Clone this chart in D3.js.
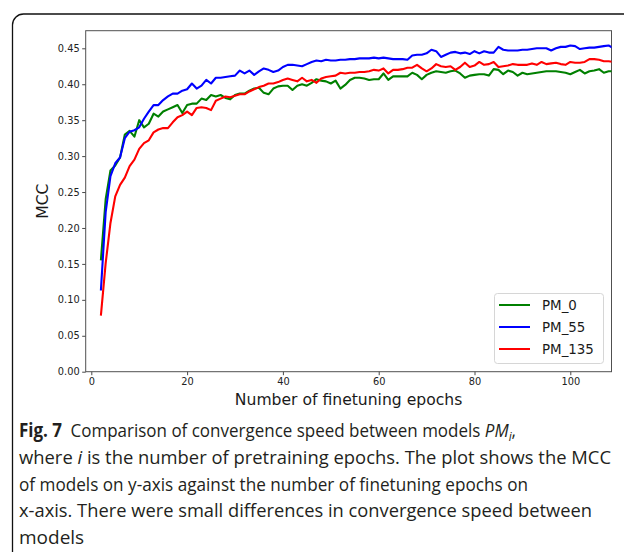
<!DOCTYPE html>
<meta charset="utf-8">
<script src="https://d3js.org/d3.v7.min.js"></script>
<style>
  body { margin: 0; background: #fff; }
</style>
<svg id="chart" width="624" height="552"></svg>
<script>

    // epochs 2..109, one value per finetuning epoch
    var epochs = d3.range(2, 110);

    var pm0 = [0.155, 0.240, 0.280, 0.287, 0.298, 0.330, 0.335, 0.327, 0.350, 0.340,
        0.345, 0.359, 0.355, 0.362, 0.365, 0.368, 0.371, 0.360, 0.371, 0.373,
        0.373, 0.380, 0.378, 0.385, 0.383, 0.385, 0.381, 0.379, 0.385, 0.387,
        0.387, 0.391, 0.394, 0.395, 0.388, 0.386, 0.394, 0.397, 0.398, 0.398,
        0.392, 0.398, 0.400, 0.398, 0.402, 0.407, 0.405, 0.404, 0.401, 0.405,
        0.394, 0.399, 0.406, 0.409, 0.409, 0.408, 0.406, 0.407, 0.407, 0.415,
        0.406, 0.411, 0.411, 0.411, 0.411, 0.416, 0.413, 0.407, 0.413, 0.416,
        0.418, 0.417, 0.416, 0.418, 0.419, 0.415, 0.409, 0.412, 0.413, 0.414,
        0.414, 0.412, 0.421, 0.420, 0.414, 0.419, 0.417, 0.412, 0.416, 0.414,
        0.415, 0.416, 0.417, 0.418, 0.418, 0.418, 0.417, 0.416, 0.414, 0.417,
        0.420, 0.415, 0.418, 0.419, 0.421, 0.416, 0.418, 0.418];

    var pm55 = [0.113, 0.222, 0.272, 0.290, 0.298, 0.325, 0.334, 0.336, 0.340, 0.352,
        0.362, 0.371, 0.371, 0.378, 0.383, 0.387, 0.387, 0.391, 0.393, 0.401,
        0.394, 0.398, 0.406, 0.401, 0.409, 0.409, 0.410, 0.411, 0.412, 0.419,
        0.415, 0.419, 0.413, 0.418, 0.422, 0.420, 0.417, 0.419, 0.424, 0.427,
        0.427, 0.426, 0.425, 0.428, 0.431, 0.433, 0.432, 0.434, 0.433, 0.433,
        0.434, 0.434, 0.435, 0.435, 0.436, 0.436, 0.436, 0.437, 0.436, 0.437,
        0.436, 0.435, 0.435, 0.435, 0.434, 0.440, 0.441, 0.441, 0.443, 0.448,
        0.446, 0.438, 0.441, 0.444, 0.445, 0.443, 0.444, 0.442, 0.446, 0.443,
        0.446, 0.444, 0.444, 0.452, 0.448, 0.447, 0.447, 0.447, 0.448, 0.448,
        0.449, 0.450, 0.450, 0.450, 0.447, 0.450, 0.452, 0.452, 0.454, 0.453,
        0.449, 0.450, 0.451, 0.451, 0.452, 0.453, 0.454, 0.450];

    var pm135 = [0.078, 0.151, 0.207, 0.244, 0.260, 0.270, 0.286, 0.295, 0.310, 0.318,
        0.322, 0.333, 0.337, 0.339, 0.339, 0.347, 0.354, 0.357, 0.362, 0.357,
        0.367, 0.368, 0.367, 0.364, 0.377, 0.380, 0.383, 0.382, 0.384, 0.386,
        0.386, 0.390, 0.393, 0.396, 0.398, 0.401, 0.401, 0.403, 0.406, 0.408,
        0.406, 0.404, 0.409, 0.404, 0.406, 0.402, 0.408, 0.410, 0.411, 0.412,
        0.416, 0.415, 0.416, 0.416, 0.417, 0.417, 0.418, 0.420, 0.419, 0.422,
        0.415, 0.420, 0.420, 0.421, 0.423, 0.423, 0.427, 0.422, 0.418, 0.422,
        0.428, 0.425, 0.424, 0.425, 0.420, 0.424, 0.430, 0.424, 0.426, 0.431,
        0.427, 0.428, 0.431, 0.424, 0.425, 0.426, 0.428, 0.427, 0.427, 0.427,
        0.429, 0.427, 0.431, 0.428, 0.429, 0.430, 0.428, 0.427, 0.431, 0.430,
        0.430, 0.431, 0.435, 0.435, 0.434, 0.432, 0.432, 0.431];

    var seriesNames = ["PM_0", "PM_55", "PM_135"];
    var seriesColors = ["#008000", "#0000ff", "#ff0000"];
    var seriesValues = [pm0, pm55, pm135];

    var xTicks = [0, 20, 40, 60, 80, 100];
    var yTicks = [0.00, 0.05, 0.10, 0.15, 0.20, 0.25, 0.30, 0.35, 0.40, 0.45];

    var captionLines = [
        "where i is the number of pretraining epochs. The plot shows the MCC",
        "of models on y-axis against the number of finetuning epochs on",
        "x-axis. There were small differences in convergence speed between",
        "models"
    ];

    var svg = d3.select("#chart");

    // figure frame (rounded top-left corner, runs off right and bottom)
    svg.append("path")
        .attr("d", "M12.5,552 V25 A11,11 0 0 1 23.5,14 H624")
        .attr("fill", "none")
        .attr("stroke", "#111")
        .attr("stroke-width", 1.3);

    var plotL = 85.7, plotR = 611.5, plotT = 30.7, plotB = 371.7;

    var x = d3.scaleLinear().domain([-1.17, 108.6]).range([plotL, plotR]);
    var y = d3.scaleLinear().domain([0, 0.4745]).range([plotB, plotT]);

    svg.append("defs").append("clipPath").attr("id", "plotclip")
        .append("rect")
        .attr("x", plotL).attr("y", plotT)
        .attr("width", plotR - plotL).attr("height", plotB - plotT);

    // axes
    var xAxis = svg.append("g")
        .attr("transform", "translate(0," + plotB + ")")
        .call(d3.axisBottom(x).tickValues(xTicks).tickSize(3.5).tickPadding(2.5).tickFormat(d3.format("d")));
    var yAxis = svg.append("g")
        .attr("transform", "translate(" + plotL + ",0)")
        .call(d3.axisLeft(y).tickValues(yTicks).tickSize(3.5).tickPadding(2.5).tickFormat(d3.format(".2f")));

    [xAxis, yAxis].forEach(function (g) {
        g.select(".domain").remove();
        g.selectAll(".tick line").attr("stroke", "#333").attr("stroke-width", 0.9);
        g.selectAll(".tick text")
            .attr("fill", "#222")
            .style("font-family", "DejaVu Sans")
            .style("font-size", "9.8px");
    });

    // spines
    svg.append("rect")
        .attr("x", plotL).attr("y", plotT)
        .attr("width", plotR - plotL).attr("height", plotB - plotT)
        .attr("fill", "none")
        .attr("stroke", "#505050")
        .attr("stroke-width", 1);

    // lines
    var line = d3.line()
        .x(function (d, i) { return x(epochs[i]) })
        .y(function (d) { return y(d) });

    svg.append("g")
        .attr("clip-path", "url(#plotclip)")
        .selectAll("path")
        .data(seriesValues)
        .enter()
        .append("path")
        .attr("fill", "none")
        .attr("stroke", function (d, i) { return seriesColors[i] })
        .attr("stroke-width", 2.1)
        .attr("stroke-linejoin", "round")
        .attr("d", line);

    // axis labels
    svg.append("text")
        .attr("x", (plotL + plotR) / 2)
        .attr("y", 405)
        .attr("text-anchor", "middle")
        .style("font-family", "DejaVu Sans")
        .style("font-size", "15.6px")
        .attr("fill", "#1a1a1a")
        .text("Number of finetuning epochs");

    svg.append("text")
        .attr("transform", "translate(48," + ((plotT + plotB) / 2) + ") rotate(-90)")
        .attr("text-anchor", "middle")
        .style("font-family", "DejaVu Sans")
        .style("font-size", "15.6px")
        .attr("fill", "#1a1a1a")
        .text("MCC");

    // legend
    var legend = svg.append("g");
    legend.append("rect")
        .attr("x", 494.5).attr("y", 293.5)
        .attr("width", 109).attr("height", 70)
        .attr("rx", 3)
        .attr("fill", "#fff")
        .attr("fill-opacity", 0.8)
        .attr("stroke", "#d6d6d6");

    var items = legend.selectAll("g.item")
        .data(seriesNames)
        .enter()
        .append("g")
        .attr("class", "item")
        .attr("transform", function (d, i) { return "translate(0," + (305 + i * 22) + ")" });
    items.append("line")
        .attr("x1", 499).attr("x2", 530)
        .attr("stroke", function (d, i) { return seriesColors[i] })
        .attr("stroke-width", 2);
    items.append("text")
        .attr("x", 542)
        .attr("dy", "0.36em")
        .style("font-family", "DejaVu Sans")
        .style("font-size", "13.4px")
        .attr("fill", "#1a1a1a")
        .text(function (d) { return d });

    // caption
    var capFont = "'Open Sans', 'Noto Sans', sans-serif";
    var cap1 = svg.append("text")
        .attr("x", 19)
        .attr("y", 437)
        .attr("textLength", 497)
        .attr("lengthAdjust", "spacingAndGlyphs")
        .style("font-family", capFont)
        .style("font-size", "19px")
        .attr("fill", "#231f20");
    cap1.append("tspan").style("font-weight", "bold").text("Fig. 7");
    cap1.append("tspan").text("\u2002Comparison of convergence speed between models ");
    cap1.append("tspan").style("font-style", "italic").text("PM");
    cap1.append("tspan").style("font-style", "italic").style("font-size", "13px").attr("dy", 4).text("i");
    cap1.append("tspan").attr("dy", -4).text(",");

    var capWidths = [592, 509, 573, null];
    captionLines.forEach(function (t, i) {
        var el = svg.append("text")
            .attr("x", 19)
            .attr("y", 464 + i * 26.5)
            .style("font-family", capFont)
            .style("font-size", "19px")
            .attr("fill", "#231f20");
        if (capWidths[i]) {
            el.attr("textLength", capWidths[i]).attr("lengthAdjust", "spacingAndGlyphs");
        }
        if (i === 0) {
            el.append("tspan").text("where ");
            el.append("tspan").style("font-style", "italic").text("i");
            el.append("tspan").text(t.slice(7));
        } else {
            el.text(t);
        }
    });

</script>
